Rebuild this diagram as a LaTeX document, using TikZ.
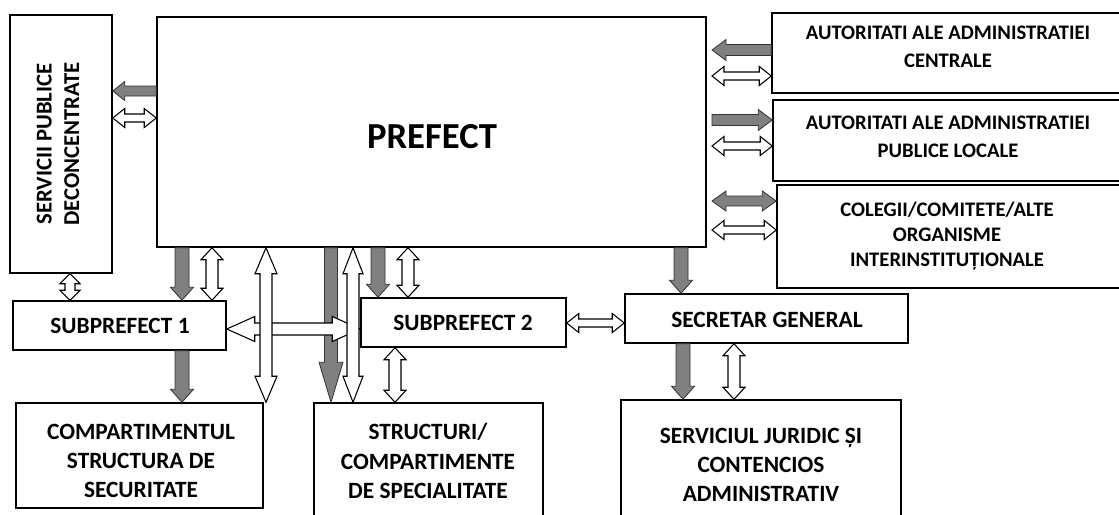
\documentclass[tikz,border=0pt]{standalone}
\usepackage{fontspec}
\setmainfont{Carlito}
\usetikzlibrary{fit,calc}

\tikzset{
  box/.style={draw, line width=1.1pt, inner sep=0pt},
  txt/.style={inner sep=0pt, align=center, font=\bfseries\fontsize{17.5}{22}\selectfont},
  sidetxt/.style={inner sep=0pt, align=center, font=\bfseries\fontsize{15.5}{21}\selectfont},
  bigtxt/.style={inner sep=0pt, font=\bfseries\fontsize{27.5}{33}\selectfont},
  % block arrow sizes, given in px of the picture
  arrshaft/.code={\pgfmathsetmacro\arrsw{#1*0.75}},
  arrhead/.code={\pgfmathsetmacro\arrhw{#1*0.75}},
  arrlen/.code={\pgfmathsetmacro\arrhl{#1*0.75}},
  blksingle/.style={to path={let \p1=(\tikztostart), \p2=(\tikztotarget),
      \n1={atan2((\y2)-(\y1),(\x2)-(\x1))}, \n2={cos(\n1)}, \n3={sin(\n1)} in
      ({(\x1)-\arrsw*(\n3)},{(\y1)+\arrsw*(\n2)})
      -- ({(\x2)-\arrhl*(\n2)-\arrsw*(\n3)},{(\y2)-\arrhl*(\n3)+\arrsw*(\n2)})
      -- ({(\x2)-\arrhl*(\n2)-\arrhw*(\n3)},{(\y2)-\arrhl*(\n3)+\arrhw*(\n2)})
      -- (\p2)
      -- ({(\x2)-\arrhl*(\n2)+\arrhw*(\n3)},{(\y2)-\arrhl*(\n3)-\arrhw*(\n2)})
      -- ({(\x2)-\arrhl*(\n2)+\arrsw*(\n3)},{(\y2)-\arrhl*(\n3)-\arrsw*(\n2)})
      -- ({(\x1)+\arrsw*(\n3)},{(\y1)-\arrsw*(\n2)})
      -- cycle}},
  blkdouble/.style={to path={let \p1=(\tikztostart), \p2=(\tikztotarget),
      \n1={atan2((\y2)-(\y1),(\x2)-(\x1))}, \n2={cos(\n1)}, \n3={sin(\n1)} in
      (\p1)
      -- ({(\x1)+\arrhl*(\n2)-\arrhw*(\n3)},{(\y1)+\arrhl*(\n3)+\arrhw*(\n2)})
      -- ({(\x1)+\arrhl*(\n2)-\arrsw*(\n3)},{(\y1)+\arrhl*(\n3)+\arrsw*(\n2)})
      -- ({(\x2)-\arrhl*(\n2)-\arrsw*(\n3)},{(\y2)-\arrhl*(\n3)+\arrsw*(\n2)})
      -- ({(\x2)-\arrhl*(\n2)-\arrhw*(\n3)},{(\y2)-\arrhl*(\n3)+\arrhw*(\n2)})
      -- (\p2)
      -- ({(\x2)-\arrhl*(\n2)+\arrhw*(\n3)},{(\y2)-\arrhl*(\n3)-\arrhw*(\n2)})
      -- ({(\x2)-\arrhl*(\n2)+\arrsw*(\n3)},{(\y2)-\arrhl*(\n3)-\arrsw*(\n2)})
      -- ({(\x1)+\arrhl*(\n2)+\arrsw*(\n3)},{(\y1)+\arrhl*(\n3)-\arrsw*(\n2)})
      -- ({(\x1)+\arrhl*(\n2)+\arrhw*(\n3)},{(\y1)+\arrhl*(\n3)-\arrhw*(\n2)})
      -- cycle}},
  grayarr/.style={blksingle, draw=black!80, fill=black!50, line width=0.6pt,
      arrshaft=7, arrhead=11.5, arrlen=13},
  graydbl/.style={blkdouble, draw=black!80, fill=black!50, line width=0.6pt,
      arrshaft=5, arrhead=10, arrlen=14},
  whitearr/.style={blkdouble, draw=black, fill=white, line width=0.8pt,
      arrshaft=6, arrhead=11, arrlen=12},
  sidegray/.style={arrshaft=5.5, arrhead=10.5, arrlen=14},
  sidewhite/.style={arrshaft=4, arrhead=9.5, arrlen=12},
}

\begin{document}
\begin{tikzpicture}[x=0.75pt,y=-0.75pt]
\useasboundingbox (0,0) rectangle (1119,514);

% Boxes
\node[box, fit={(10,15) (112,273)}] (serv) {};
\node[box, fit={(157,17) (706,247)}] (prefect) {};
\node[box, fit={(772,13) (1130,93)}] (auc) {};
\node[box, fit={(773,100) (1130,181)}] (apl) {};
\node[box, fit={(777,185) (1130,288)}] (col) {};
\node[box, fit={(13,301) (226,350)}] (sp1) {};
\node[box, fit={(361,298) (566,347)}] (sp2) {};
\node[box, fit={(625,294) (908,343)}] (sg) {};
\node[box, fit={(16,403) (263,508)}] (comp) {};
\node[box, fit={(314,403) (543,530)}] (struct) {};
\node[box, fit={(621,400) (901,530)}] (jur) {};

% Text Nodes
\node[txt, rotate=90, font=\bfseries\fontsize{17}{20.5}\selectfont] (servtxt) at (58,144) {SERVICII PUBLICE\\DECONCENTRATE};
\node[bigtxt] (preftxt) at (432,137) {PREFECT};
\node[sidetxt] (auctxt) at (948,47) {AUTORITATI ALE ADMINISTRATIEI\\CENTRALE};
\node[sidetxt] (apltxt) at (948,137) {AUTORITATI ALE ADMINISTRATIEI\\PUBLICE LOCALE};
\node[sidetxt, font=\bfseries\fontsize{15.5}{19}\selectfont] (coltxt) at (947,236) {COLEGII/COMITETE/ALTE\\ORGANISME\\INTERINSTITUȚIONALE};
\node[txt] (sp1txt) at (120,326) {SUBPREFECT 1};
\node[txt] (sp2txt) at (463,323) {SUBPREFECT 2};
\node[txt] (sgtxt) at (767,320) {SECRETAR GENERAL};
\node[txt] (comptxt) at (141,461) {COMPARTIMENTUL\\STRUCTURA DE\\SECURITATE};
\node[txt] (structxt) at (428,461) {STRUCTURI/\\COMPARTIMENTE\\DE SPECIALITATE};
\node[txt] (jurtxt) at (761,465) {SERVICIUL JURIDIC ȘI\\CONTENCIOS\\ADMINISTRATIV};

\coordinate (pre) at (712,0);

% Block arrows, left and right of the prefect
\draw[grayarr, arrshaft=5, arrhead=9.5, arrlen=12] (prefect.west |- 0,91) to (serv.east |- 0,91);
\draw[whitearr, sidewhite] (serv.east |- 0,118) to (prefect.west |- 0,118);
\draw[grayarr, sidegray] (auc.west |- 0,50) to (pre |- 0,50);
\draw[whitearr, sidewhite] (pre |- 0,76) to (auc.west |- 0,76);
\draw[grayarr, sidegray] (pre |- 0,120) to (apl.west |- 0,120);
\draw[whitearr, sidewhite] (pre |- 0,146) to (apl.west |- 0,146);
\draw[graydbl] (pre |- 0,201) to (col.west |- 0,201);
\draw[whitearr, sidewhite] (pre |- 0,230) to (col.west |- 0,230);

% Block arrows below the prefect
\draw[whitearr, arrshaft=5, arrhead=10, arrlen=10] (serv.south -| 70,0) to (sp1.north -| 70,0);
\draw[grayarr] (prefect.south -| 182,0) to (sp1.north -| 182,0);
\draw[whitearr] (prefect.south -| 212,0) to (sp1.north -| 212,0);
\draw[grayarr] (sp1.south -| 182,0) to (comp.north -| 182,0);
\draw[grayarr, arrshaft=6.5, arrhead=12, arrlen=40] (prefect.south -| 331,0) to (struct.north -| 331,0);
\draw[whitearr, arrshaft=6, arrhead=12.5, arrlen=28] (sp1.east |- 0,329) to (sp2.west |- 0,329);
\draw[whitearr, arrshaft=6, arrhead=11, arrlen=26] (prefect.south -| 266,0) to (comp.north -| 266,0);
\draw[whitearr, arrshaft=6, arrhead=10, arrlen=26] (prefect.south -| 353,0) to (struct.north -| 353,0);
\draw[grayarr] (prefect.south -| 378,0) to (sp2.north -| 378,0);
\draw[whitearr] (prefect.south -| 408,0) to (sp2.north -| 408,0);
\draw[whitearr] (sp2.south -| 395,0) to (struct.north -| 395,0);
\draw[whitearr, sidewhite] (sp2.east |- 0,323) to (sg.west |- 0,323);
\draw[grayarr] (prefect.south -| 681,0) to (sg.north -| 681,0);
\draw[grayarr] (sg.south -| 683,0) to (jur.north -| 683,0);
\draw[whitearr] (sg.south -| 734,0) to (jur.north -| 734,0);

\end{tikzpicture}
\end{document}
